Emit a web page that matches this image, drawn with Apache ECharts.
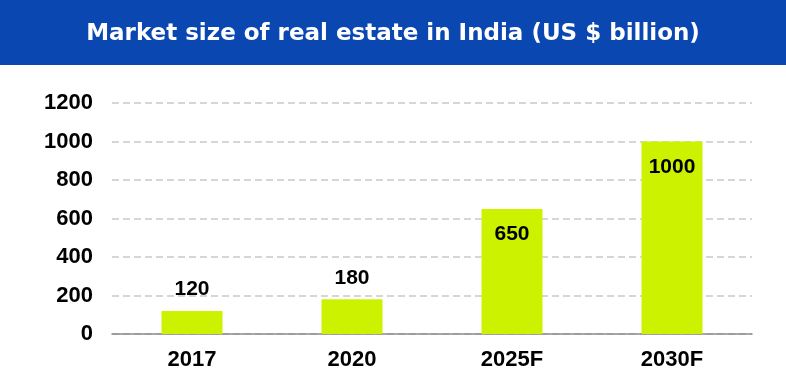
<!DOCTYPE html>
<html><head><meta charset="utf-8">
<script src="https://cdn.jsdelivr.net/npm/echarts@6/dist/echarts.min.js"></script>
<style>html,body{margin:0;padding:0;background:#fff;}#c{width:786px;height:379px;}</style>
</head><body><div id="c"></div>
<script>
const categories = ['2017', '2020', '2025F', '2030F'];
const values = [120, 180, 650, 1000];
const labelInside = [false, false, true, true];
const titleText = 'Market size of real estate in India (US $ billion)';

const chart = echarts.init(document.getElementById('c'), null, {renderer: 'canvas'});
const numFont = '"Liberation Sans Narrow", "Arial Narrow", "Liberation Sans", Arial, sans-serif';
chart.setOption({
  animation: false,
  graphic: [{
    type: 'rect', left: 0, top: 0, shape: {width: 786, height: 65},
    style: {fill: '#0b47b0'}, z: -1
  }],
  title: {
    text: titleText, left: 'center', top: 18,
    textStyle: {color: '#fff', fontFamily: '"DejaVu Sans", sans-serif', fontWeight: 'bold', fontSize: 23}
  },
  grid: {left: 112, right: 34, top: 103, bottom: 45},
  xAxis: {
    type: 'category', data: categories,
    axisLine: {lineStyle: {color: '#8a8a8a', width: 1.5}},
    axisTick: {show: false},
    axisLabel: {color: '#000', fontFamily: numFont, fontWeight: 'bold', fontSize: 22, margin: 15}
  },
  yAxis: {
    type: 'value', min: 0, max: 1200, interval: 200,
    axisLine: {show: false}, axisTick: {show: false},
    axisLabel: {color: '#000', fontFamily: numFont, fontWeight: 'bold', fontSize: 22, margin: 19,
      formatter: v => String(v)},
    splitLine: {lineStyle: {color: '#d6d6d6', width: 2, type: [7, 4]}}
  },
  series: [{
    type: 'bar', barWidth: 61,
    data: values.map((v, i) => ({
      value: v,
      label: labelInside[i] ? {position: 'insideTop', distance: 15} : {position: 'top', distance: 11}
    })),
    itemStyle: {color: '#ccf200'},
    label: {show: true, color: '#000', fontFamily: numFont, fontWeight: 'bold', fontSize: 21}
  }]
});
</script></body></html>
